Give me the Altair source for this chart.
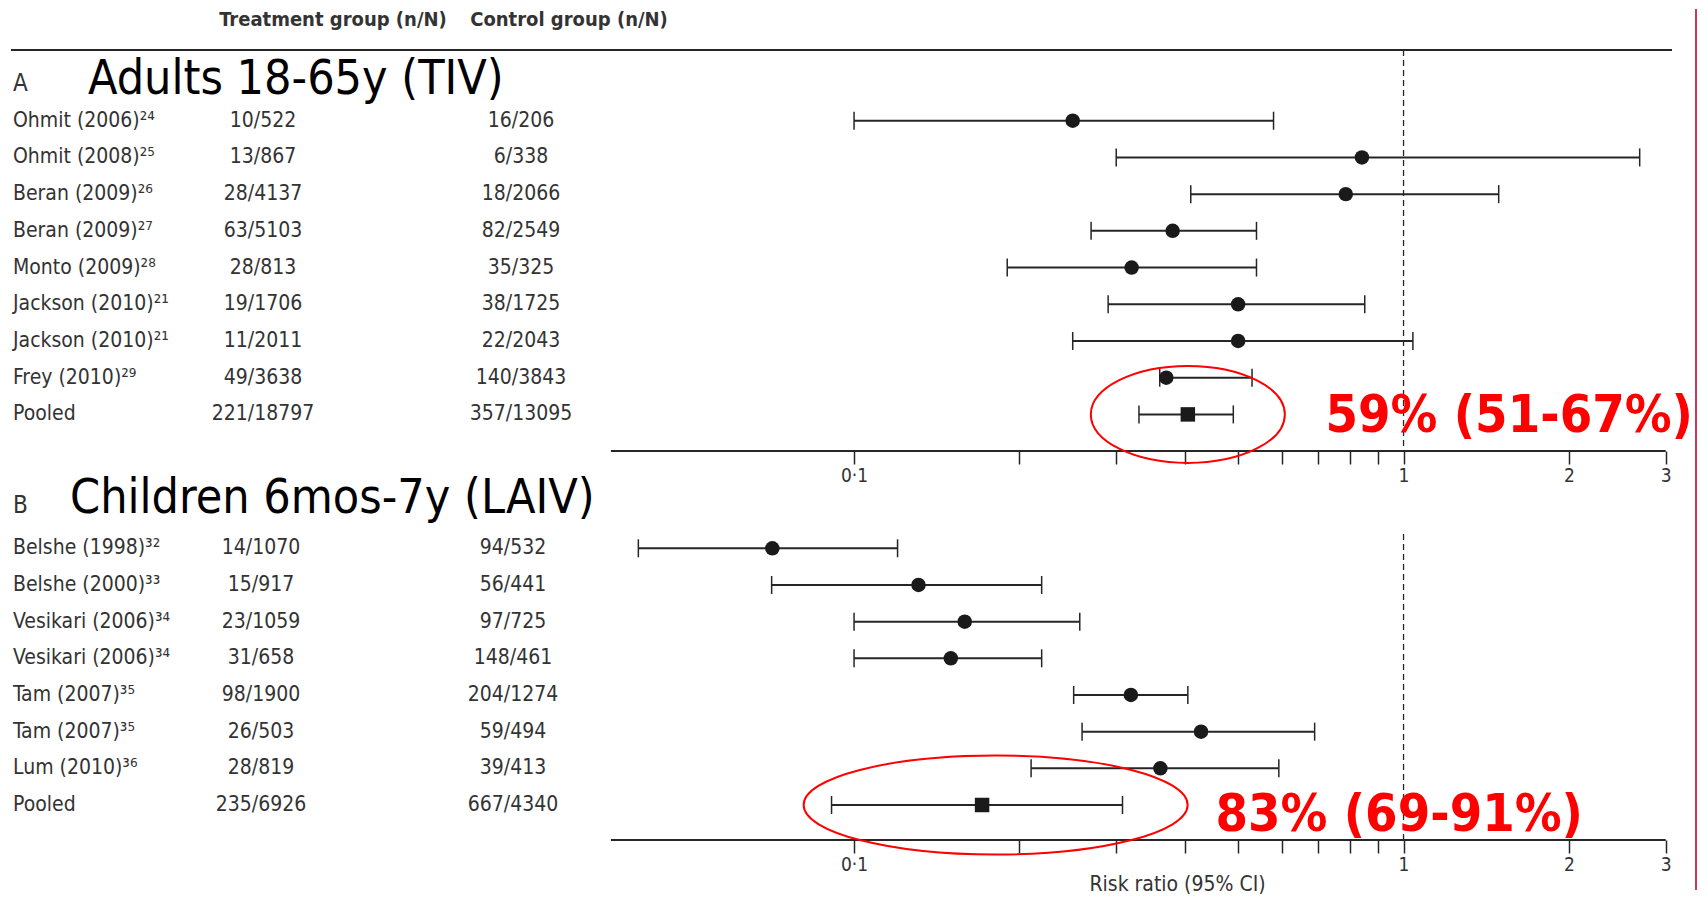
import altair as alt
import pandas as pd

# ---------------- Panel A: Adults 18-65y (TIV) ----------------
a_study = ["Ohmit (2006)²⁴", "Ohmit (2008)²⁵", "Beran (2009)²⁶", "Beran (2009)²⁷",
           "Monto (2009)²⁸", "Jackson (2010)²¹", "Jackson (2010)²¹", "Frey (2010)²⁹", "Pooled"]
a_treat = ["10/522", "13/867", "28/4137", "63/5103", "28/813", "19/1706", "11/2011", "49/3638", "221/18797"]
a_ctrl = ["16/206", "6/338", "18/2066", "82/2549", "35/325", "38/1725", "22/2043", "140/3843", "357/13095"]
a_rr = [0.25, 0.84, 0.785, 0.38, 0.32, 0.50, 0.50, 0.37, 0.405]
a_lo = [0.10, 0.30, 0.41, 0.27, 0.19, 0.29, 0.25, 0.36, 0.33]
a_hi = [0.58, 2.69, 1.49, 0.54, 0.54, 0.85, 1.04, 0.53, 0.49]
a_title = "Adults 18-65y (TIV)"
a_effect = "59% (51-67%)"

# ---------------- Panel B: Children 6mos-7y (LAIV) ----------------
b_study = ["Belshe (1998)³²", "Belshe (2000)³³", "Vesikari (2006)³⁴", "Vesikari (2006)³⁴",
           "Tam (2007)³⁵", "Tam (2007)³⁵", "Lum (2010)³⁶", "Pooled"]
b_treat = ["14/1070", "15/917", "23/1059", "31/658", "98/1900", "26/503", "28/819", "235/6926"]
b_ctrl = ["94/532", "56/441", "97/725", "148/461", "204/1274", "59/494", "39/413", "667/4340"]
b_rr = [0.071, 0.131, 0.159, 0.150, 0.319, 0.428, 0.361, 0.171]
b_lo = [0.0405, 0.0708, 0.10, 0.10, 0.251, 0.26, 0.21, 0.091]
b_hi = [0.120, 0.2195, 0.2575, 0.2195, 0.405, 0.689, 0.593, 0.308]
b_title = "Children 6mos-7y (LAIV)"
b_effect = "83% (69-91%)"

# red hand-drawn ellipse centres (risk-ratio units)
ellipse_x = [0.405, 0.181]

header_labels = ["Treatment group (n/N)", "Control group (n/N)"]
tick_values = [0.1, 0.2, 0.3, 0.4, 0.5, 0.6, 0.7, 0.8, 0.9, 1, 2, 3]
tick_labels = {0.1: "0·1", 1: "1", 2: "2", 3: "3"}
axis_extent = [0.0361, 3]
x_title = "Risk ratio (95% CI)"

# ---------------- styling ----------------
W = 1688
INK = "#333333"
LINE = "#262626"
RED = "#ff0000"
TFONT = "DejaVu Sans Condensed, Liberation Sans Narrow, sans-serif"
BIGFONT = "DejaVu Sans Condensed, DejaVu Sans, sans-serif"
XS = alt.Scale(type="log", domain=[0.002886, 3.406], nice=False)

label_expr = " : ".join(f"datum.value == {v} ? '{t}'" for v, t in tick_labels.items()) + " : ''"


def make_axis(title):
    kw = dict(values=tick_values, labelExpr=label_expr, domain=False, grid=False,
              ticks=True, tickSize=13, tickWidth=1.5, tickColor=LINE,
              labelFont=TFONT, labelFontSize=19, labelColor=INK, labelPadding=2,
              labelOverlap=False, labelFlush=False)
    if title:
        kw.update(title=title, titleX=1169, titleY=50, titleAlign="center",
                  titleBaseline="alphabetic", titleFont=TFONT, titleFontSize=21,
                  titleFontWeight="normal", titleColor=INK)
    else:
        kw.update(title=None)
    return alt.Axis(**kw)


def frame(study, treat, ctrl, rr, lo, hi):
    return pd.DataFrame({
        "row": list(range(len(study))), "study": study, "treat": treat, "ctrl": ctrl,
        "rr": rr, "lo": lo, "hi": hi,
        "kind": ["pooled" if s == "Pooled" else "study" for s in study],
    })


def txt(text, x, y, **mark):
    return alt.Chart(pd.DataFrame({"t": [text]})).mark_text(**mark).encode(
        text="t:N", x=alt.value(x), y=alt.value(y))


def ellipse_path(ratio):
    k = 0.5523
    r = ratio
    return (f"M-1,0 C-1,{-k*r:.4f} {-k},{-r:.4f} 0,{-r:.4f} C{k},{-r:.4f} 1,{-k*r:.4f} 1,0 "
            f"C1,{k*r:.4f} {k},{r:.4f} 0,{r:.4f} C{-k},{r:.4f} -1,{k*r:.4f} -1,0 Z")


def panel(df, height, yrange, letter, title, title_left, base_y, letter_y, ref_top,
          effect, effect_right, effect_dy, ell_x, ell_ratio, ell_w,
          treat_x, ctrl_x, edge_extra, axis_title=None, header=False):
    n = len(df)
    ax = make_axis(axis_title)
    ys = alt.Scale(domain=[0, n - 1], range=yrange, nice=False)
    Y = alt.Y("row:Q", scale=ys, axis=None)

    def X(f):
        return alt.X(f, scale=XS, axis=ax)

    base = alt.Chart(df)
    layers = []
    if header:
        layers.append(alt.Chart(pd.DataFrame({"z": [0]})).mark_rule(color=LINE, strokeWidth=2).encode(
            x=alt.value(3), x2=alt.value(1664), y=alt.value(41)))
        layers.append(txt(header_labels[0], 325, 17, font=TFONT, fontSize=20, fontWeight="bold",
                          color=INK, align="center", baseline="alphabetic"))
        layers.append(txt(header_labels[1], 561, 17, font=TFONT, fontSize=20, fontWeight="bold",
                          color=INK, align="center", baseline="alphabetic"))
    layers.append(txt(letter, 5, letter_y, font=TFONT, fontSize=24, color=INK,
                      align="left", baseline="alphabetic"))
    layers.append(txt(title, title_left, base_y, font=BIGFONT, fontSize=48, color="#000000",
                      align="left", baseline="alphabetic"))
    # reference line at RR = 1
    layers.append(alt.Chart(pd.DataFrame({"v": [1]})).mark_rule(
        color=LINE, strokeWidth=1.3, strokeDash=[6, 4]).encode(
        x=X("v:Q"), y=alt.value(ref_top), y2=alt.value(height)))
    # axis line
    layers.append(alt.Chart(pd.DataFrame({"a": [axis_extent[0]], "b": [axis_extent[1]]})).mark_rule(
        color=LINE, strokeWidth=2).encode(x=X("a:Q"), x2="b:Q", y=alt.value(height)))
    # table columns
    layers.append(base.mark_text(font=TFONT, fontSize=21, color=INK, align="left", baseline="middle").encode(
        x=alt.value(5), y=Y, text="study:N"))
    layers.append(base.mark_text(font=TFONT, fontSize=21, color=INK, align="center", baseline="middle").encode(
        x=alt.value(treat_x), y=Y, text="treat:N"))
    layers.append(base.mark_text(font=TFONT, fontSize=21, color=INK, align="center", baseline="middle").encode(
        x=alt.value(ctrl_x), y=Y, text="ctrl:N"))
    # CI lines
    layers.append(base.mark_rule(color=LINE, strokeWidth=2).encode(x=X("lo:Q"), x2="hi:Q", y=Y))
    layers.append(base.transform_fold(["lo", "hi"], as_=["end", "v"]).mark_point(
        shape="M0,-1L0,1", size=324, filled=False, strokeWidth=1.5, color=LINE, opacity=1).encode(
        x=X("v:Q"), y=Y))
    layers.append(base.transform_filter("datum.kind == 'study'").mark_circle(
        size=210, color="#1a1a1a", opacity=1).encode(x=X("rr:Q"), y=Y))
    layers.append(base.transform_filter("datum.kind == 'pooled'").mark_square(
        size=210, color="#1a1a1a", opacity=1).encode(x=X("rr:Q"), y=Y))
    # red annotation
    layers.append(alt.Chart(pd.DataFrame({"cx": [ell_x], "row": [n - 1]})).mark_point(
        shape=ellipse_path(ell_ratio), size=ell_w ** 2, filled=False, color=RED,
        strokeWidth=2, opacity=1).encode(x=X("cx:Q"), y=Y))
    layers.append(alt.Chart(pd.DataFrame({"t": [effect], "row": [n - 1]})).mark_text(
        font=BIGFONT, fontSize=52, fontWeight="bold", color=RED, align="right",
        baseline="alphabetic", dy=effect_dy).encode(x=alt.value(effect_right), y=Y, text="t:N"))
    # slide edge
    layers.append(alt.Chart(pd.DataFrame({"z": [0]})).mark_rule(color="#c8385a", strokeWidth=2).encode(
        x=alt.value(1688), y=alt.value(0), y2=alt.value(height + edge_extra)))
    return alt.layer(*layers).properties(width=W, height=height)


dfa = frame(a_study, a_treat, a_ctrl, a_rr, a_lo, a_hi)
dfb = frame(b_study, b_treat, b_ctrl, b_rr, b_lo, b_hi)

HA = 442
HB = 383
pa = panel(dfa, HA, [111.7, 405.4], "A", a_title, 80, 85, 82, 41,
           a_effect, 1685, 18, ellipse_x[0], 0.5, 194, 255, 513, 6, header=True)
pb = panel(dfb, HB, [91.3, 348.0], "B", b_title, 62, 56, 56, 77,
           b_effect, 1575, 26, ellipse_x[1], 0.258, 384, 253, 505, 50, axis_title=x_title)

chart = alt.vconcat(pa, pb, spacing=6, bounds="flush").properties(
    padding=0, background="white").configure_view(stroke=None)

chart.save("out.html", embed_options={"renderer": "svg", "actions": False})
